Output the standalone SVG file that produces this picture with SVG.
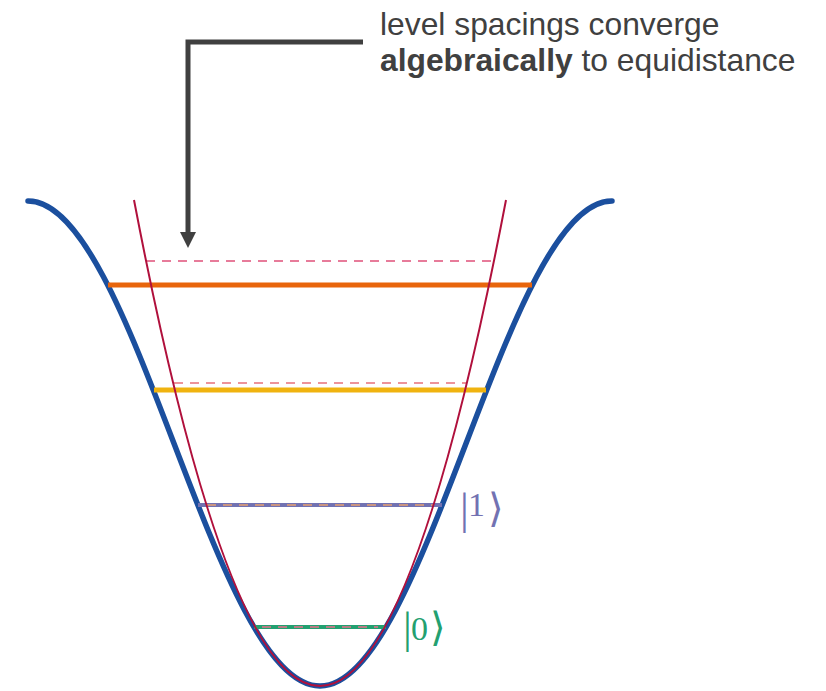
<svg xmlns="http://www.w3.org/2000/svg" width="826" height="691" viewBox="0 0 826 691">
  <style>
    .note { font-family: "Liberation Sans", Arial, sans-serif; font-size: 31.8px; fill: #404040; }
    .ket { font-family: "Liberation Serif", "DejaVu Serif", serif; }
    .dash { fill: none; stroke-width: 1.3; stroke-dasharray: 9 7; }
    .lvl { fill: none; }
  </style>
  <defs>
    <marker id="arrowHead" markerUnits="userSpaceOnUse" markerWidth="16" markerHeight="16" refX="2" refY="8" orient="auto" viewBox="0 0 16 16">
      <path d="M0,0 L16,8 L0,16 Z" fill="#404040"/>
    </marker>
  </defs>
  <rect width="826" height="691" fill="#ffffff"/>

  <g id="cosine-potential">
    <path d="M28,201 C134,201 214,686 320,686 C426,686 506,201 612,201" fill="none" stroke="#1b4f9e" stroke-width="5.5" stroke-linecap="round"/>
  </g>

  <g id="level-3">
    <line class="lvl" x1="108" y1="285" x2="532" y2="285" stroke="#e8650c" stroke-width="5"/>
  </g>
  <g id="level-2">
    <line class="lvl" x1="154" y1="390" x2="486" y2="390" stroke="#f0b30f" stroke-width="5"/>
  </g>
  <g id="level-1">
    <line class="lvl" x1="198" y1="505" x2="442" y2="505" stroke="#7272b2" stroke-width="4"/>
  </g>
  <g id="level-0">
    <line class="lvl" x1="254" y1="627" x2="386" y2="627" stroke="#23a070" stroke-width="4"/>
  </g>

  <g id="harmonic-levels">
    <line class="dash" x1="146" y1="261" x2="494" y2="261" stroke="#e0507a"/>
    <line class="dash" x1="174" y1="383" x2="466" y2="383" stroke="#e8707a"/>
    <line class="dash" x1="207" y1="505" x2="433" y2="505" stroke="#e8a070"/>
    <line class="dash" x1="262" y1="627" x2="378" y2="627" stroke="#e8708a"/>
  </g>

  <g id="harmonic-potential">
    <path d="M134,200 Q320,1172 506,200" fill="none" stroke="#b0103c" stroke-width="2"/>
  </g>

  <g id="label-1">
    <text class="ket" fill="#7272b2"><tspan x="460" y="524" font-size="44">|</tspan><tspan x="468" y="516" font-size="34">1</tspan><tspan x="488" y="522" font-size="40">⟩</tspan></text>
  </g>
  <g id="label-0">
    <text class="ket" fill="#23a070"><tspan x="403" y="643" font-size="44">|</tspan><tspan x="411" y="640" font-size="34">0</tspan><tspan x="430" y="641" font-size="40">⟩</tspan></text>
  </g>

  <g id="annotation">
    <text class="note" x="380" y="35">level spacings converge</text>
    <text class="note" x="380" y="71"><tspan font-weight="bold">algebraically</tspan> to equidistance</text>
  </g>

  <g id="connectors">
    <path d="M363,42 H188 V234" fill="none" stroke="#404040" stroke-width="5" marker-end="url(#arrowHead)"/>
  </g>
</svg>
